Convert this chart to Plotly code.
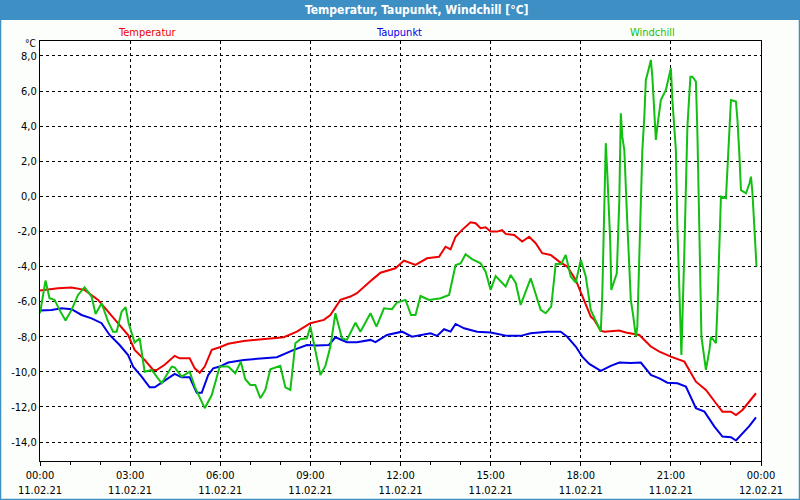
import pandas as pd
import plotly.graph_objects as go

# Daten (Minuten ab 11.02.21 00:00)
temp_min = [0, 36, 63, 89, 116, 136, 156, 176, 189, 209, 226, 233, 249, 269, 279, 299, 309, 319, 329, 343,
            359, 376, 407, 447, 487, 513, 540, 567, 580, 600, 620, 633, 653, 663, 680, 700, 710, 727, 750,
            773, 797, 810, 820, 830, 843, 860, 870, 880, 890, 900, 913, 923, 930, 947, 963, 977, 990, 1003,
            1020, 1037, 1053, 1070, 1083, 1100, 1107, 1120, 1127, 1157, 1170, 1197, 1220, 1237, 1260, 1287,
            1310, 1330, 1350, 1363, 1380, 1390, 1403, 1430]
temp_val = [-5.37, -5.24, -5.2, -5.33, -5.9, -6.57, -7.23, -7.9, -8.75, -9.32, -9.89, -9.9, -9.6, -9.09, -9.23,
            -9.23, -9.8, -10.05, -9.7, -8.75, -8.6, -8.4, -8.24, -8.14, -8.03, -7.71, -7.23, -7.04, -6.76, -5.9,
            -5.71, -5.52, -5.05, -4.76, -4.35, -4.19, -4.1, -3.66, -3.91, -3.53, -3.44, -2.87, -3.02, -2.3, -1.91,
            -1.48, -1.53, -1.82, -1.76, -2.01, -2.01, -1.93, -2.14, -2.2, -2.58, -2.3, -2.67, -3.24, -3.34, -3.72,
            -4.0, -4.76, -5.71, -6.85, -7.04, -7.65, -7.71, -7.65, -7.76, -7.9, -8.56, -8.85, -9.13, -9.42, -10.56,
            -11.03, -11.79, -12.27, -12.27, -12.46, -12.17, -11.22]

taup_min = [0, 23, 43, 63, 83, 103, 123, 139, 159, 176, 186, 203, 219, 229, 246, 269, 283, 299, 313, 323, 336,
            346, 359, 376, 407, 473, 507, 533, 553, 577, 590, 613, 633, 660, 670, 693, 723, 743, 780, 793, 807,
            820, 830, 847, 873, 900, 933, 960, 980, 1013, 1040, 1053, 1070, 1083, 1097, 1120, 1140, 1157, 1180,
            1200, 1220, 1237, 1253, 1273, 1290, 1310, 1327, 1347, 1363, 1380, 1390, 1407, 1417, 1430]
taup_val = [-6.51, -6.47, -6.38, -6.43, -6.76, -6.95, -7.23, -7.9, -8.47, -9.04, -9.71, -10.27, -10.88, -10.88,
            -10.56, -10.12, -10.31, -10.31, -11.19, -11.19, -10.18, -9.8, -9.7, -9.47, -9.32, -9.17, -8.75, -8.47,
            -8.5, -8.47, -8.03, -8.31, -8.31, -8.18, -8.31, -7.9, -7.71, -8.0, -7.8, -7.95, -7.57, -7.71, -7.27,
            -7.52, -7.71, -7.76, -7.95, -7.95, -7.8, -7.71, -7.71, -8.0, -8.56, -9.13, -9.55, -9.95, -9.66, -9.47,
            -9.5, -9.47, -10.18, -10.37, -10.62, -10.65, -10.84, -12.07, -12.27, -13.12, -13.69, -13.72, -13.91,
            -13.41, -13.08, -12.59]

wind_min = [0, 4, 11, 19, 29, 39, 51, 63, 76, 89, 103, 111, 123, 136, 146, 153, 163, 171, 177, 189, 199, 209,
            223, 243, 263, 269, 283, 299, 309, 329, 343, 359, 376, 390, 401, 410, 420, 430, 440, 450, 460, 480,
            490, 500, 510, 520, 533, 540, 553, 560, 570, 580, 590, 603, 613, 630, 640, 660, 672, 687, 703, 713,
            730, 741, 750, 760, 777, 800, 817, 830, 840, 850, 863, 880, 890, 900, 910, 930, 940, 950, 960, 980,
            1000, 1010, 1021, 1030, 1041, 1050, 1060, 1070, 1080, 1090, 1100, 1110, 1120, 1123, 1127, 1130, 1133,
            1139, 1141, 1145, 1152, 1157, 1160, 1163, 1167, 1173, 1180, 1185, 1190, 1193, 1200, 1203, 1207, 1210,
            1217, 1220, 1223, 1227, 1230, 1233, 1240, 1250, 1257, 1260, 1263, 1270, 1273, 1279, 1281, 1287, 1293,
            1299, 1303, 1310, 1313, 1317, 1321, 1330, 1337, 1340, 1350, 1353, 1357, 1360, 1370, 1377, 1380, 1390,
            1393, 1397, 1400, 1410, 1417, 1420, 1423, 1427, 1430, 1431]
wind_val = [-6.66, -6.0, -4.8, -5.81, -5.9, -6.47, -7.08, -6.47, -5.62, -5.18, -5.71, -6.7, -6.09, -7.14, -7.71,
            -7.71, -6.57, -6.32, -7.23, -8.33, -8.09, -9.99, -9.89, -10.65, -9.7, -9.75, -10.27, -9.99, -10.84,
            -12.07, -11.32, -9.7, -9.7, -10.08, -9.42, -10.42, -10.75, -10.75, -11.5, -11.03, -9.85, -9.66, -10.88,
            -11.03, -8.37, -8.14, -8.09, -7.42, -9.32, -10.18, -9.66, -8.56, -6.66, -8.09, -8.18, -7.2, -7.71,
            -6.66, -7.42, -6.38, -6.43, -6.05, -5.9, -6.76, -6.76, -5.68, -5.9, -5.81, -5.62, -3.91, -3.82, -3.3,
            -3.58, -3.82, -4.29, -5.33, -4.54, -5.14, -4.48, -4.92, -6.19, -4.67, -6.47, -6.66, -6.28, -3.85, -3.85,
            -3.34, -4.57, -4.92, -3.62, -4.57, -6.47, -7.14, -7.71, -5.62, -1.25, 3.03, 1.32, -2.67, -5.33, -4.95,
            -4.38, -0.23, 4.73, 3.4, 2.64, -1.53, -5.9, -6.85, -7.99, -7.42, 0.17, 2.64, 4.54, 6.63, 7.39, 7.77,
            6.82, 5.11, 3.21, 3.97, 5.49, 6.06, 6.82, 7.3, 5.49, 2.64, -1.72, -6.85, -9.04, -3.05, 3.97, 6.82,
            6.82, 6.54, 3.59, -2.1, -7.99, -9.89, -8.75, -8.0, -8.37, -6.28, -2.48, -0.02, -0.1, 4.35, 5.49, 5.4,
            4.35, 2.26, 0.35, 0.17, 0.74, 1.12, 0.17, -1.91, -3.05, -4.0]

y_ticks = [8, 6, 4, 2, 0, -2, -4, -6, -8, -10, -12, -14]
y_labels = ["8,0", "6,0", "4,0", "2,0", "0,0", "-2,0", "-4,0", "-6,0", "-8,0", "-10,0", "-12,0", "-14,0"]

start = pd.Timestamp("2021-02-11 00:00")
end = pd.Timestamp("2021-02-12 00:00")


def to_time(minutes):
    return start + pd.to_timedelta(minutes, unit="m")


W, H = 800, 500
ml, mr, mt, mb = 40, 39, 41, 39
ph = H - mt - mb
pw = W - ml - mr


def py(px):
    # pixel y (von oben) -> paper-Koordinate
    return 1 + (mt - px) / ph


def pxx(px):
    return (px - ml) / pw


fig = go.Figure()
fig.add_trace(go.Scatter(x=to_time(temp_min), y=temp_val, mode="lines", name="Temperatur",
                         line=dict(color="#ee0000", width=2)))
fig.add_trace(go.Scatter(x=to_time(taup_min), y=taup_val, mode="lines", name="Taupunkt",
                         line=dict(color="#0000e6", width=2)))
fig.add_trace(go.Scatter(x=to_time(wind_min), y=wind_val, mode="lines", name="Windchill",
                         line=dict(color="#11c011", width=2)))

font_axis = dict(family="DejaVu Sans Condensed, Liberation Sans, sans-serif", size=11, color="black")

fig.update_layout(
    width=W, height=H,
    margin=dict(l=ml, r=mr, t=mt, b=mb, autoexpand=False),
    paper_bgcolor="#fbfefb",
    plot_bgcolor="white",
    showlegend=False,
    font=font_axis,
    xaxis=dict(
        range=[start, end], type="date", automargin=False,
        dtick=3 * 3600000, tick0=start,
        tickformat="%H:%M<br>%d.%m.%y",
        showgrid=True, gridcolor="black", griddash="3px,3px", gridwidth=1,
        showline=True, linecolor="black", linewidth=1, mirror=True,
        ticks="outside", ticklen=4, tickcolor="black",
        minor=dict(dtick=3600000, tick0=start, ticks="outside", ticklen=3, tickcolor="black", showgrid=False),
        zeroline=False, tickfont=font_axis,
    ),
    yaxis=dict(
        range=[-15.08, 8.85], automargin=False,
        tickvals=y_ticks, ticktext=y_labels,
        showgrid=True, gridcolor="black", griddash="3px,3px", gridwidth=1,
        showline=True, linecolor="black", linewidth=1, mirror=True,
        ticks="", zeroline=False, tickfont=font_axis,
    ),
    shapes=[
        dict(type="rect", xref="paper", yref="paper", x0=pxx(0), x1=pxx(W), y0=py(20), y1=py(0),
             fillcolor="#3d8fc4", line=dict(width=0), layer="below"),
        dict(type="rect", xref="paper", yref="paper", x0=pxx(0.5), x1=pxx(W - 0.5), y0=py(H - 0.5), y1=py(0.5),
             line=dict(color="#3d8fc4", width=1.5), layer="below"),
    ],
    annotations=[
        dict(text="<b>Temperatur, Taupunkt, Windchill [°C]</b>", xref="paper", yref="paper",
             x=pxx(417), y=py(10), showarrow=False, xanchor="center", yanchor="middle",
             font=dict(family="DejaVu Sans Condensed, Liberation Sans, sans-serif", size=12, color="white")),
        dict(text="Temperatur", xref="paper", yref="paper", x=pxx(147), y=py(32), showarrow=False,
             xanchor="center", yanchor="middle", font=dict(color="#ee0000", size=11)),
        dict(text="Taupunkt", xref="paper", yref="paper", x=pxx(399), y=py(32), showarrow=False,
             xanchor="center", yanchor="middle", font=dict(color="#0000e6", size=11)),
        dict(text="Windchill", xref="paper", yref="paper", x=pxx(652), y=py(32), showarrow=False,
             xanchor="center", yanchor="middle", font=dict(color="#11c011", size=11)),
        dict(text="°C", xref="paper", yref="paper", x=pxx(38), y=py(44), showarrow=False,
             xanchor="right", yanchor="middle", font=dict(size=10, color="black")),
    ],
)

# Browser-Standardrand der Seite entfernen, damit das Diagramm bei (0,0) beginnt
fig.write_html("out.html", config={"displayModeBar": False},
               post_script="document.body.style.margin='0';")
